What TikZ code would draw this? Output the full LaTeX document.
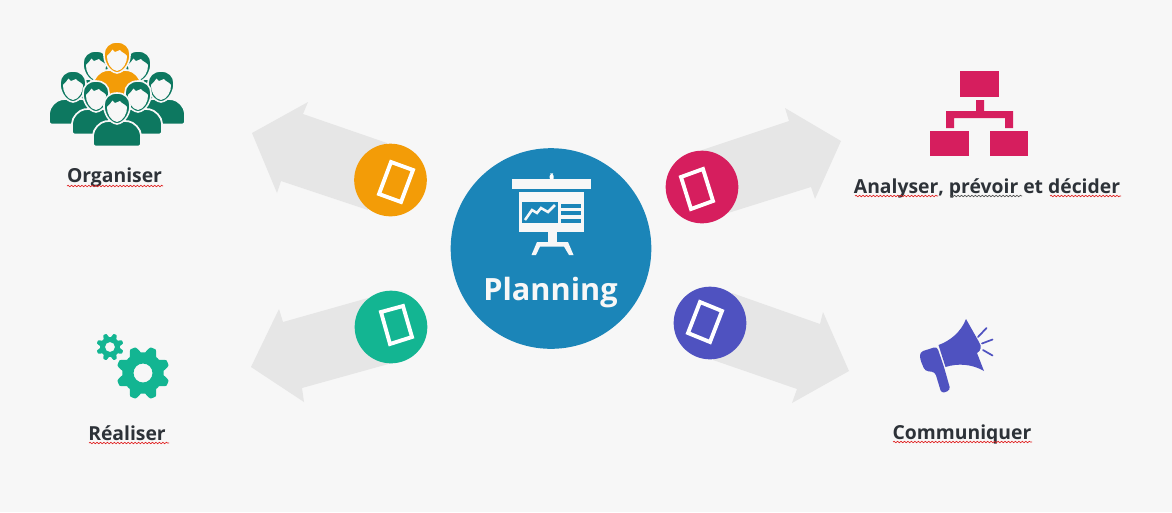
\documentclass[tikz,border=0pt]{standalone}
\usepackage{fontspec}
\setmainfont{Open Sans}
\usetikzlibrary{decorations.pathmorphing}
\definecolor{bgc}{HTML}{F7F7F7}
\definecolor{arrowc}{HTML}{E6E6E6}
\definecolor{bluec}{HTML}{1B85B8}
\definecolor{orangec}{HTML}{F39C07}
\definecolor{greenc}{HTML}{13B592}
\definecolor{pinkc}{HTML}{D61E5E}
\definecolor{indigoc}{HTML}{4F52C0}
\definecolor{teamc}{HTML}{0D7860}
\definecolor{textc}{HTML}{2D3238}
\definecolor{wavered}{HTML}{E02020}
\definecolor{wavegrey}{HTML}{505050}
\tikzset{
  arrowshape/.style={fill=arrowc,draw=none},
  disc/.style={circle,draw=none,minimum size=54.5pt,inner sep=0pt},
  frameicon/.style={draw=white,line width=2.9pt,fill=none,line join=miter},
  label/.style={font=\bfseries\fontsize{14.5}{18}\selectfont,text=textc,anchor=base,inner sep=0pt},
  squig/.style={line width=0.5pt,decorate,decoration={snake,segment length=2.6pt,amplitude=0.55pt}},
  pics/person/.style={code={
    \fill[#1,draw=bgc,line width=1.3pt,rounded corners=2]
      (-24,39.5) -- (-24,31) .. controls (-24,22) and (-17,15) .. (-9,14)
      -- (9,14) .. controls (17,15) and (24,22) .. (24,31) -- (24,39.5) -- cycle;
    \fill[#1,draw=bgc,line width=1.2pt] (0,-14)
      .. controls (8,-14) and (13,-9) .. (13,-2)
      .. controls (13.5,6) and (8,16) .. (0,17)
      .. controls (-8,16) and (-13.5,6) .. (-13,-2)
      .. controls (-13,-9) and (-8,-14) .. (0,-14) -- cycle;
    \fill[bgc] (-10,0) .. controls (-8,-2) and (-6,-4) .. (-4.5,-6.5) -- (-2,-4) -- (3,-6) -- (5,-4)
      .. controls (7,-3) and (9,-1.5) .. (10,0)
      .. controls (10.5,6) and (6,14.5) .. (0,15)
      .. controls (-6,14.5) and (-10.5,6) .. (-10,0) -- cycle;
  }},
}
\begin{document}
\begin{tikzpicture}[x=0.75pt,y=-0.75pt]
\fill[bgc] (0,0) rectangle (1172,512);
\useasboundingbox (0,0) rectangle (1172,512);
% grey arrows
\fill[arrowshape] (252,133) -- (308,102) -- (303,114) -- (387,143) -- (368,210) -- (281,181) -- (277,193) -- cycle;
\fill[arrowshape] (251,367) -- (279,309) -- (283,322) -- (368,298) -- (392,363) -- (302,388) -- (304,402) -- cycle;
\fill[arrowshape] (841,141) -- (785,108) -- (789,121) -- (702,150) -- (728,213) -- (811,187) -- (815,199) -- cycle;
\fill[arrowshape] (849,371) -- (823,312) -- (820,324) -- (732,293) -- (713,360) -- (797,389) -- (792,403) -- cycle;
% discs
\node[disc,fill=orangec] (discA) at (390.5,180) {};
\node[disc,fill=greenc] (discB) at (391,327) {};
\node[disc,fill=pinkc] (discC) at (702,187) {};
\node[disc,fill=indigoc] (discD) at (710,323) {};
\draw[frameicon] (391,162) -- (413,170) -- (401,202) -- (379,194) -- cycle;
\draw[frameicon] (381,312) -- (403,306) -- (412,337) -- (390,344) -- cycle;
\draw[frameicon] (681,177) -- (703,169) -- (713,201) -- (691,209) -- cycle;
\draw[frameicon] (700,302) -- (722,311) -- (710,342) -- (688,333) -- cycle;
% central disc
\node[circle,fill=bluec,draw=none,minimum size=150.5pt,inner sep=0pt] (hub) at (551,248.5) {};
\fill[white,rounded corners=1.5] (549.7,180) -- (549.7,174) -- (551.7,173) -- (553.7,174) -- (553.7,180) -- cycle;
\fill[bgc] (512,179) rectangle (591,189);
\fill[bgc] (519,192) rectangle (584,232);
\fill[bluec] (522,202) rectangle (558,223);
\draw[bgc,line width=1.9pt,line join=miter] (525,220) -- (532,210) -- (537,213) -- (541,208) -- (548,212) -- (555,205);
\fill[bluec] (561,203.5) rectangle (581,208);
\fill[bluec] (561,211) rectangle (581,215);
\fill[bluec] (561,218.5) rectangle (581,223);
\fill[bgc] (548,232) rectangle (556.5,243);
\fill[bgc] (537,242) -- (568,242) -- (573.5,255) -- (569,255) -- (564,246.5) -- (540,246.5) -- (536,255) -- (531.5,255) -- cycle;
\node[font=\bfseries\fontsize{23}{28}\selectfont,text=bgc,anchor=base,inner sep=0pt] (planning) at (550.5,300) {Planning};
% team icon
\pic at (96,65) {person=teamc};
\pic at (138,65) {person=teamc};
\pic at (117,56) {person=orangec};
\pic at (73,85) {person=teamc};
\pic at (161,85) {person=teamc};
\pic at (96,95) {person=teamc};
\pic at (138,95) {person=teamc};
\pic at (117,107) {person=teamc};
% hierarchy icon
\fill[pinkc] (960,71) rectangle (999,97);
\fill[pinkc] (930,131) rectangle (969,156);
\fill[pinkc] (990,131) rectangle (1028,156);
\fill[pinkc] (976,100) -- (984,100) -- (984,111) -- (1013,111) -- (1013,128) -- (1005,128) -- (1005,118)
  -- (954,118) -- (954,128) -- (946,128) -- (946,111) -- (976,111) -- cycle;
% gears
\fill[greenc,even odd rule] plot[domain=0:360,samples=181,smooth] ({143+(23.7+3*max(-1,min(1,-1.5*cos(8*\x))))*cos(\x)},{373+(23.7+3*max(-1,min(1,-1.5*cos(8*\x))))*sin(\x)}) -- cycle
  (143,373) circle[radius=9.5];
\fill[greenc,even odd rule] plot[domain=0:360,samples=181,smooth] ({110+(11.8+1.8*max(-1,min(1,-1.5*cos(8*\x))))*cos(\x)},{347+(11.8+1.8*max(-1,min(1,-1.5*cos(8*\x))))*sin(\x)}) -- cycle
  (110,347) circle[radius=5];
% megaphone
\fill[indigoc] (938.5,345) .. controls (950,341) and (961,332) .. (966,319) -- (979,342)
  .. controls (982,346) and (981,351) .. (977,353) -- (984,371)
  .. controls (972,364) and (958,363) .. (945.5,367) -- cycle;
\fill[indigoc,rounded corners=2.5] (937,346.5) -- (920,352) -- (920,359) -- (925,371) -- (935,372) -- (941.5,393.5) -- (950.5,390) -- (944,367) -- cycle;
\draw[indigoc,line width=1.3pt,line cap=round] (978,337) -- (986.5,328);
\draw[indigoc,line width=1.3pt,line cap=round] (982,343.5) -- (992.5,339.5);
\draw[indigoc,line width=1.3pt,line cap=round] (983,350) -- (992.5,355.5);
% labels
\node[label] (org) at (114.5,182.7) {Organiser};
\node[label] (ana) at (987,193) {Analyser, prévoir et décider};
\node[label] (rea) at (127,440.5) {Réaliser};
\node[label] (com) at (962,439.3) {Communiquer};
% spell-check squiggles
\draw[squig,wavered] (67,186) -- (163,186);
\draw[squig,wavered] (855,196) -- (938,196);
\draw[squig,wavegrey] (950,196) -- (1022,196);
\draw[squig,wavered] (1050,196) -- (1121,196);
\draw[squig,wavered] (89,443) -- (169,443);
\draw[squig,wavered] (893,442) -- (1032,442);
\end{tikzpicture}
\end{document}
